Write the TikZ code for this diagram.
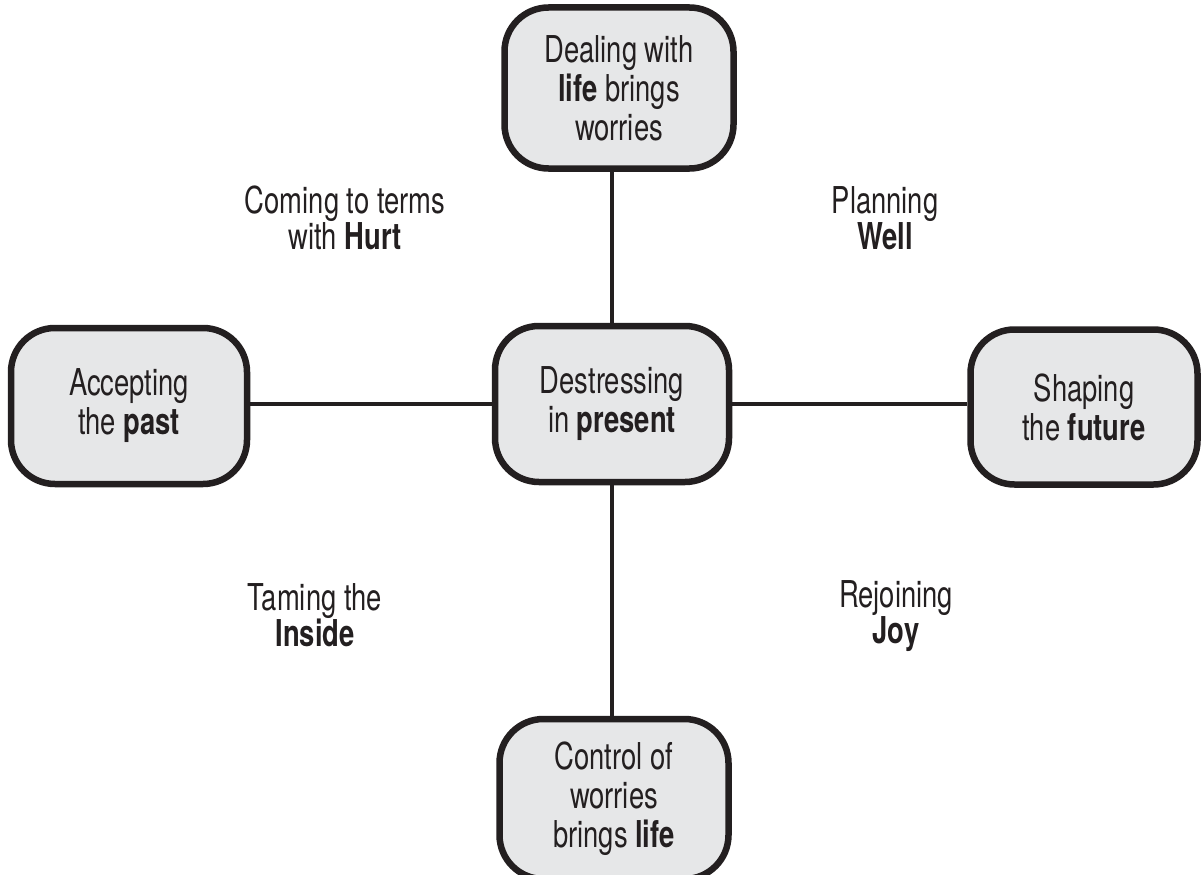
\documentclass[tikz,border=0pt]{standalone}
\usepackage{fontspec}
\setmainfont{TeX Gyre Heros}[FakeStretch=0.74]
\definecolor{ink}{HTML}{231F20}
\definecolor{boxfill}{HTML}{E6E7E8}
\begin{document}
\begin{tikzpicture}[x=1pt,y=-1pt,
  box/.style={draw=ink, line width=6.5pt, fill=boxfill, rounded corners=44pt,
    align=center, inner sep=0pt, text=ink,
    font=\fontsize{37}{39}\selectfont},
  link/.style={draw=ink, line width=4.5pt},
  lbl/.style={align=center, inner sep=0pt, text=ink,
    font=\fontsize{37}{36}\selectfont}]
  \useasboundingbox (0,0) rectangle (1202,875);

  % the five boxes
  \node[box, minimum width=229pt, minimum height=161pt] (top) at (619,88)
    {Dealing with\\\textbf{life} brings\\worries};
  \node[box, minimum width=234pt, minimum height=156pt] (mid) at (612,404)
    {Destressing\\in \textbf{present}};
  \node[box, minimum width=236pt, minimum height=156pt] (left) at (129,406)
    {Accepting\\the \textbf{past}};
  \node[box, minimum width=227pt, minimum height=155pt] (right) at (1084,407)
    {Shaping\\the \textbf{future}};
  \node[box, minimum width=229pt, minimum height=160pt] (bottom) at (614,799)
    {Control of\\worries\\brings \textbf{life}};

  % connectors from the centre box
  \draw[link] (mid.north) -- (mid.north |- top.south);
  \draw[link] (mid.south) -- (mid.south |- bottom.north);
  \draw[link] (mid.west) -- (mid.west -| left.east);
  \draw[link] (mid.east) -- (mid.east -| right.west);

  % quadrant labels
  \node[lbl] (hurt) at (345,218) {Coming to terms\\with \textbf{Hurt}};
  \node[lbl] (well) at (885,218) {Planning\\\textbf{Well}};
  \node[lbl] (inside) at (315,615) {Taming the\\\textbf{Inside}};
  \node[lbl] (joy) at (896,616) {Rejoining\\\textbf{Joy}};
\end{tikzpicture}
\end{document}
